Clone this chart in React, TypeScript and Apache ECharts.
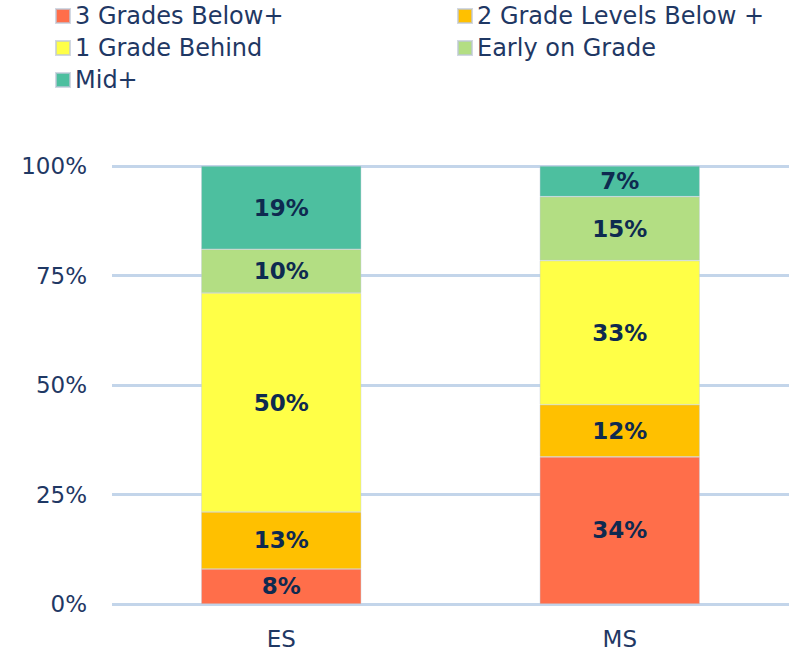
import React, { useEffect, useRef } from "react";
import * as echarts from "echarts";

const categories = ["ES", "MS"];
const seriesNames = ["3 Grades Below+", "2 Grade Levels Below +", "1 Grade Behind", "Early on Grade", "Mid+"];
const threeBelow = [8, 33.6];
const twoBelow = [13, 11.9];
const oneBehind = [50, 32.9];
const earlyOn = [10, 14.6];
const midPlus = [19, 7.0];
const yTicks = [0, 25, 50, 75, 100];
const colors = ["#FF6E4A", "#FFC000", "#FFFF47", "#B3DE83", "#4DBF9F"];

const FONT = "DejaVu Sans";
const TEXT = "#1F3864";

export default function App() {
  const ref = useRef<HTMLDivElement>(null);
  useEffect(() => {
    if (!ref.current) return;
    const chart = echarts.init(ref.current, null, { renderer: "svg" });
    const values = [threeBelow, twoBelow, oneBehind, earlyOn, midPlus];
    const legendText = { fontFamily: FONT, fontSize: 24, color: TEXT, lineHeight: 24 };
    chart.setOption({
      animation: false,
      textStyle: { fontFamily: FONT },
      legend: [
        {
          data: [seriesNames[0], seriesNames[2], seriesNames[4]],
          orient: "vertical",
          left: 55,
          top: 4,
          padding: 0,
          itemWidth: 14,
          itemHeight: 14,
          itemGap: 8,
          icon: "rect",
          textStyle: legendText,
        },
        {
          data: [seriesNames[1], seriesNames[3]],
          orient: "vertical",
          left: 457,
          top: 4,
          padding: 0,
          itemWidth: 14,
          itemHeight: 14,
          itemGap: 8,
          icon: "rect",
          textStyle: legendText,
        },
      ],
      grid: { left: 112, right: 9, top: 166, bottom: 48, containLabel: false },
      xAxis: {
        type: "category",
        data: categories,
        axisLine: { show: false },
        axisTick: { show: false },
        axisLabel: { fontFamily: FONT, fontSize: 23, color: TEXT, margin: 23 },
      },
      yAxis: {
        type: "value",
        min: yTicks[0],
        max: yTicks[yTicks.length - 1],
        interval: 25,
        axisLine: { show: false },
        axisTick: { show: false },
        axisLabel: { fontFamily: FONT, fontSize: 23, color: TEXT, margin: 25, formatter: "{value}%" },
        splitLine: { show: true, lineStyle: { color: "#C3D5EA", width: 3, type: "solid" } },
      },
      series: seriesNames.map((name, i) => ({
        name,
        type: "bar",
        stack: "total",
        barWidth: 160,
        data: values[i],
        itemStyle: { color: colors[i], borderColor: "rgba(190,200,215,0.7)", borderWidth: 0.6 },
        label: {
          show: true,
          position: "inside",
          fontFamily: FONT,
          fontWeight: "bold",
          fontSize: 23,
          color: "#0E2A50",
          formatter: (p: any) => Math.round(p.value) + "%",
        },
      })),
    });
    return () => chart.dispose();
  }, []);
  return <div ref={ref} style={{ position: "absolute", left: 0, top: 0, width: 798, height: 652 }} />;
}
